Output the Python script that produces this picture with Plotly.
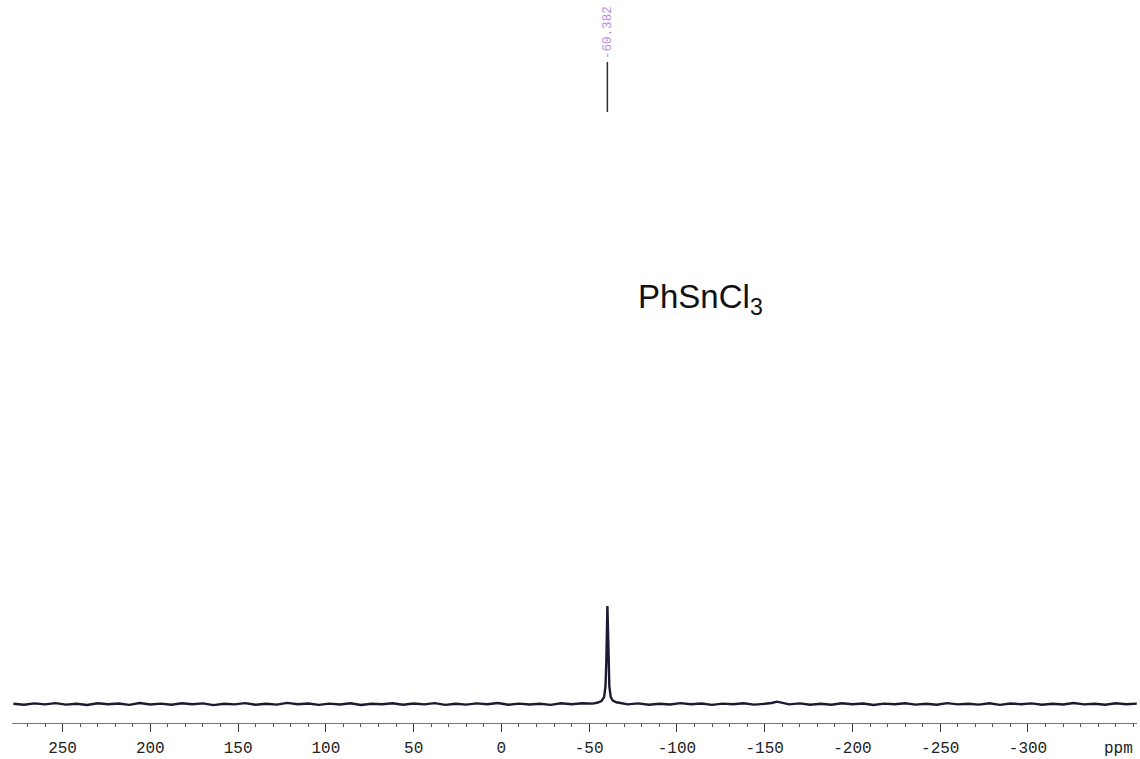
import plotly.graph_objects as go

# --- data (ppm, relative intensity) ---
ppm_left = [278, 272, 266, 260, 254, 248, 242, 236, 230, 224,
            218, 212, 206, 200, 194, 188, 182, 176, 170, 164,
            158, 152, 146, 140, 134, 128, 122, 116, 110, 104,
            98, 92, 86, 80, 74, 68, 62, 56, 50, 44,
            38, 32, 26, 20, 14, 8, 2, -4, -10, -16,
            -22, -28, -34, -40, -46, -52]
int_left = [0.3, -0.8, 0.6, -0.4, 0.9, -0.6, 0.2, -1.0, 0.7, -0.3,
            0.5, -0.9, 1.0, -0.5, 0.4, -0.7, 0.8, -0.2, 0.6, -1.1,
            0.3, -0.4, 0.9, -0.8, 0.2, -0.6, 1.1, -0.3, 0.5, -0.9,
            0.4, -0.5, 0.8, -1.0, 0.3, -0.2, 0.7, -0.7, 0.5, -0.4,
            0.9, -0.9, 0.2, -0.6, 0.6, -0.3, 1.0, -0.8, 0.4, -0.5,
            0.3, -0.9, 0.7, -0.2, 0.8, 0.4]

ppm_peak = [-55, -57, -58.5, -59.3, -59.8, -60.1, -60.4, -60.7, -61.0, -61.5,
            -62.3, -63.5, -65.5, -68]
int_peak = [1.5, 3.0, 7.0, 18.0, 45.0, 80.0, 100.0, 78.0, 45.0, 18.0,
            7.0, 3.5, 1.8, 0.8]

ppm_right = [-72, -78, -84, -90, -96, -102, -108, -114, -120, -126,
             -132, -138, -144, -150, -154, -157, -160, -164, -170, -176,
             -182, -188, -194, -200, -206, -212, -218, -224, -230, -236,
             -242, -248, -254, -260, -266, -272, -278, -284, -290, -296,
             -302, -308, -314, -320, -326, -332, -338, -344, -350, -356,
             -362]
int_right = [-0.4, 0.6, -0.8, 0.3, -0.5, 0.9, -0.2, 0.5, -0.9, 0.4,
             -0.3, 0.7, -0.6, 0.2, 1.0, 2.4, 1.2, -0.4, 0.6, -0.8,
             0.3, -0.7, 0.8, -0.3, 0.5, -1.0, 0.4, -0.2, 0.7, -0.6,
             0.2, -0.8, 0.9, -0.4, 0.3, -0.6, 0.8, -0.9, 0.5, -0.3,
             0.6, -0.7, 0.2, -0.5, 1.0, -0.4, 0.3, -0.8, 0.7, -0.2,
             0.4]

tick_vals = [250, 200, 150, 100, 50, 0, -50, -100, -150, -200, -250, -300]
tick_text = [str(v) for v in tick_vals]
peak_ppm = -60.382
peak_label = "-60.382"
compound = "PhSnCl<sub>3</sub>"

ppm = ppm_left + ppm_peak + ppm_right
inten = int_left + int_peak + int_right

fig = go.Figure()
fig.add_trace(go.Scatter(x=ppm, y=inten, mode="lines",
                         line=dict(color="#1c1a30", width=2.4),
                         hoverinfo="skip", showlegend=False))

H = 723.0
W = 1125.0
L = 12.0
mono = "Liberation Mono, Courier New, monospace"
fig.update_layout(
    width=1140, height=759,
    margin=dict(l=12, r=3, t=0, b=36),
    paper_bgcolor="white", plot_bgcolor="white",
    showlegend=False,
    xaxis=dict(range=[278.8, -362.1], tickvals=tick_vals, ticktext=tick_text,
               ticks="outside", ticklen=8, tickwidth=1, tickcolor="#333",
               showline=True, linecolor="#7a68b0", linewidth=1,
               showgrid=False, zeroline=False, ticklabelstandoff=2,
               minor=dict(dtick=10, ticks="outside", ticklen=3, tickcolor="#555", showgrid=False),
               tickfont=dict(family=mono, size=16, color="#222")),
    yaxis=dict(range=[-19.4, 718.4], visible=False, showgrid=False, zeroline=False),
)

# peak marker line and label
fig.add_shape(type="line", xref="x", yref="paper", x0=peak_ppm, x1=peak_ppm,
              y0=(H - 112) / H, y1=(H - 62) / H, line=dict(color="#2a2a3a", width=1.5))
fig.add_annotation(x=peak_ppm, xref="x", y=(H - 59) / H, yref="paper", yanchor="bottom",
                   yshift=-2,
                   text=peak_label, textangle=-90, showarrow=False,
                   font=dict(family=mono, size=12.5, color="#b590dc"))

fig.add_annotation(x=(700 - L) / W, xref="paper", y=(H - 299) / H, yref="paper",
                   xanchor="center", yanchor="middle",
                   text=compound, showarrow=False,
                   font=dict(family="Liberation Sans, Arial, sans-serif", size=33, color="#111"))

fig.add_annotation(x=(1118 - L) / W, xref="paper", y=(H - 749) / H, yref="paper",
                   xanchor="center", yanchor="middle",
                   text="ppm", showarrow=False,
                   font=dict(family=mono, size=16, color="#222"))

fig.write_html("out.html", config={"displayModeBar": False},
               post_script="document.body.style.margin='0px';")
